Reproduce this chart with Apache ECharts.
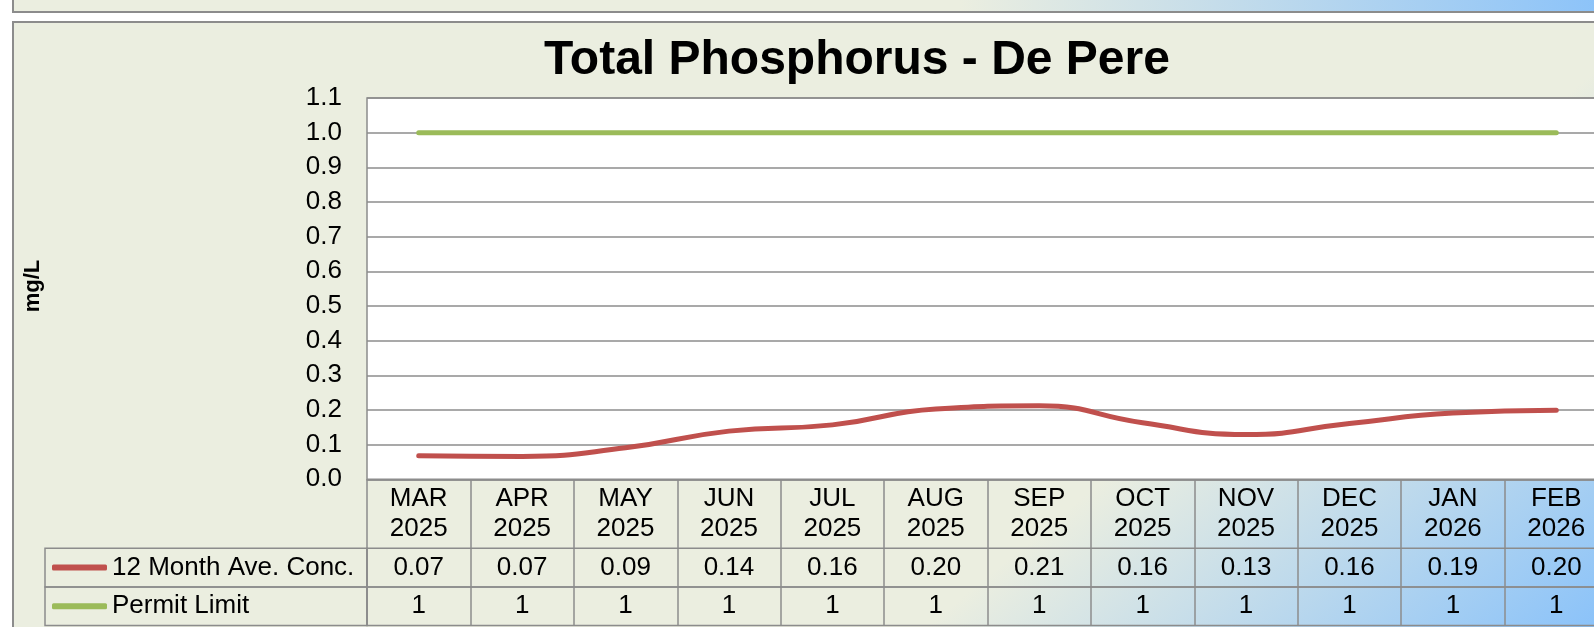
<!doctype html>
<html lang="en">
<head>
<meta charset="UTF-8">
<title>Total Phosphorus - De Pere</title>
<script src="https://cdn.jsdelivr.net/npm/echarts@6/dist/echarts.min.js"></script>
<style>
  html, body { margin: 0; padding: 0; overflow: hidden; background: #fff; }
  #chart { width: 1714px; height: 627px; }
</style>
</head>
<body>
<div id="chart"></div>
<script>
// months shown in the data table header
const months = ['MAR', 'APR', 'MAY', 'JUN', 'JUL', 'AUG', 'SEP', 'OCT', 'NOV', 'DEC', 'JAN', 'FEB']
const years = ['2025', '2025', '2025', '2025', '2025', '2025', '2025', '2025', '2025', '2025', '2026', '2026']
// 12 month average concentration, mg/L
const conc = [0.068, 0.066, 0.091, 0.139, 0.157, 0.203, 0.212, 0.163, 0.129, 0.161, 0.191, 0.199]
// permit limit, mg/L
const permit = [1, 1, 1, 1, 1, 1, 1, 1, 1, 1, 1, 1]

const FONT = "'Liberation Sans', Arial, sans-serif"
const GRID_C = '#8c8c8c'
const RED = '#C0504D'
const GREEN = '#9BBB59'

const categories = months.map((m, i) => m + '\n' + years[i])

let chart = echarts.init(document.getElementById('chart'))

const bgFill = new echarts.graphic.LinearGradient(688, 825, 958, 1150, [
  { offset: 0, color: '#EBEEE0' },
  { offset: 1, color: '#8CC3F9' }
], true)
const stripFill = new echarts.graphic.LinearGradient(960, 0, 1600, 0, [
  { offset: 0, color: '#EBEEE0' },
  { offset: 1, color: '#8CC3F9' }
], true)

// rows of the data table: top / height
const plotTop = 98, plotH = 381.3
const headH = 69
const row1Top = plotTop + plotH + headH, rowH = 38.6
const row2Top = row1Top + rowH

let rowAxis = (idx, data) => ({
  type: 'category',
  gridIndex: idx,
  data: data,
  position: 'bottom',
  axisLine: { show: false },
  axisTick: { show: false },
  splitLine: { show: true, interval: 0, lineStyle: { color: GRID_C, width: 1.5 } },
  axisLabel: {
    inside: true, margin: 0, interval: 0,
    fontFamily: FONT, fontSize: 26, lineHeight: rowH, color: '#000'
  }
})

let option = {
  backgroundColor: '#fff',
  animation: false,
  title: {
    text: 'Total Phosphorus - De Pere',
    left: 'center',
    top: 32,
    textStyle: { fontFamily: FONT, fontSize: 48, fontWeight: 'bold', color: '#000' }
  },
  legend: {
    orient: 'vertical',
    left: 52,
    top: row1Top,
    padding: 0,
    itemGap: 0,
    itemWidth: 55,
    itemHeight: 6,
    icon: 'roundRect',
    selectedMode: false,
    textStyle: { fontFamily: FONT, fontSize: 26, lineHeight: rowH, color: '#000', padding: [0, 0, 0, 0] },
    data: ['12 Month Ave. Conc.', 'Permit Limit']
  },
  grid: [
    { left: 367, right: 106, top: plotTop, height: plotH, show: true, backgroundColor: '#fff', borderColor: GRID_C, borderWidth: 1.5 },
    { left: 367, right: 106, top: row1Top, height: rowH, show: true, backgroundColor: 'transparent', borderColor: GRID_C, borderWidth: 1.5 },
    { left: 367, right: 106, top: row2Top, height: rowH, show: true, backgroundColor: 'transparent', borderColor: GRID_C, borderWidth: 1.5 }
  ],
  xAxis: [
    {
      type: 'category',
      gridIndex: 0,
      data: categories,
      boundaryGap: true,
      axisLine: { show: true, lineStyle: { color: GRID_C, width: 1.5 } },
      axisTick: { show: true, interval: 0, length: headH, lineStyle: { color: GRID_C, width: 1.5 } },
      axisLabel: { interval: 0, margin: 5, fontFamily: FONT, fontSize: 26, lineHeight: 30, color: '#000' }
    },
    rowAxis(1, conc.map(v => v.toFixed(2))),
    rowAxis(2, permit.map(v => String(v)))
  ],
  yAxis: [
    {
      type: 'value',
      gridIndex: 0,
      min: 0,
      max: 1.1,
      interval: 0.1,
      axisLine: { show: false },
      axisTick: { show: false },
      splitLine: { show: true, lineStyle: { color: GRID_C, width: 1.5 } },
      axisLabel: {
        margin: 25, padding: [3, 0, 0, 0], fontFamily: FONT, fontSize: 26, color: '#000',
        formatter: v => v.toFixed(1)
      }
    },
    { type: 'value', gridIndex: 1, show: false },
    { type: 'value', gridIndex: 2, show: false }
  ],
  graphic: [
    // previous chart frame peeking in at the top
    { type: 'rect', z: -10, shape: { x: 13, y: -20, width: 1800, height: 32 },
      style: { fill: stripFill, stroke: GRID_C, lineWidth: 2 } },
    // chart area frame
    { type: 'rect', z: -10, shape: { x: 13, y: 22, width: 1800, height: 700 },
      style: { fill: bgFill, stroke: GRID_C, lineWidth: 2 } },
    // row header cells of the data table
    { type: 'rect', z: 5, shape: { x: 45, y: row1Top, width: 322, height: rowH },
      style: { fill: 'none', stroke: GRID_C, lineWidth: 1.5 } },
    { type: 'rect', z: 5, shape: { x: 45, y: row2Top, width: 322, height: rowH },
      style: { fill: 'none', stroke: GRID_C, lineWidth: 1.5 } },
    { type: 'text', z: 5, x: 33, y: 286, rotation: Math.PI / 2,
      style: { text: 'mg/L', font: 'bold 22px ' + FONT, fill: '#000', align: 'center', verticalAlign: 'middle' } }
  ],
  series: [
    {
      name: '12 Month Ave. Conc.',
      type: 'line',
      xAxisIndex: 0, yAxisIndex: 0,
      data: conc,
      smooth: true,
      symbol: 'none',
      itemStyle: { color: RED },
      lineStyle: { color: RED, width: 5, cap: 'round' }
    },
    {
      name: 'Permit Limit',
      type: 'line',
      xAxisIndex: 0, yAxisIndex: 0,
      data: permit,
      symbol: 'none',
      itemStyle: { color: GREEN },
      lineStyle: { color: GREEN, width: 5, cap: 'round' }
    }
  ]
}
chart.setOption(option)
</script>
</body>
</html>
